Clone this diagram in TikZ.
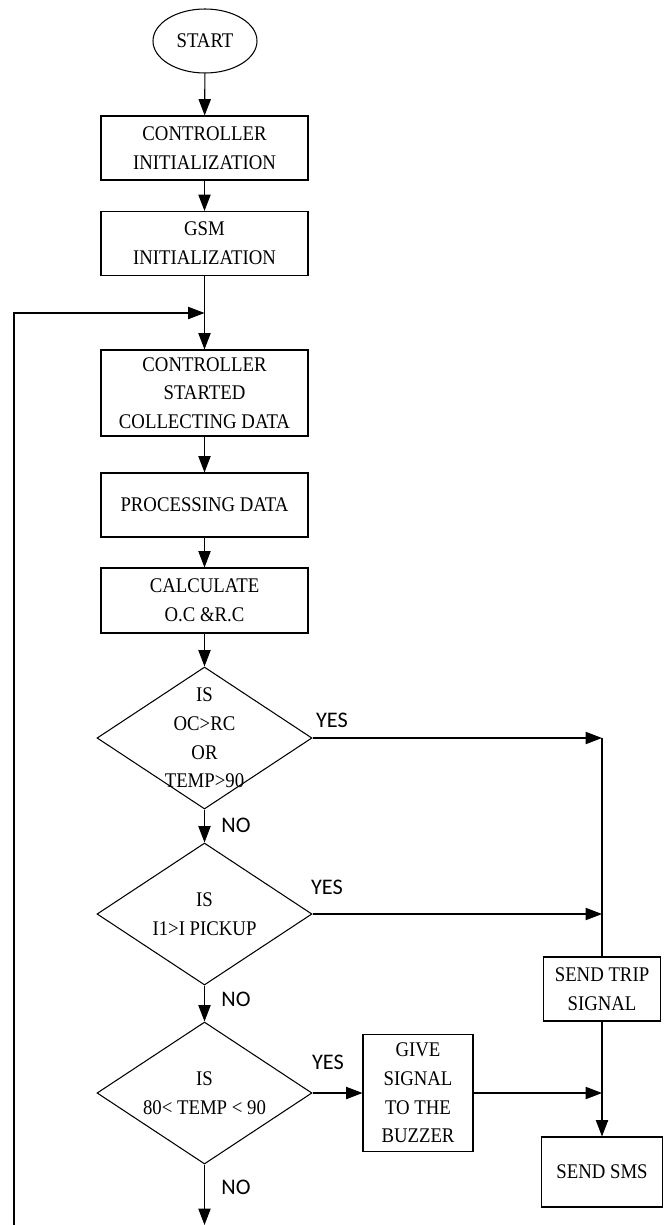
\documentclass[tikz,border=0pt]{standalone}
\usepackage{fontspec}
\setmainfont{Liberation Serif}[FakeStretch=0.9]
\newfontfamily\yesnofont{Carlito}
\usetikzlibrary{shapes.geometric,arrows.meta}

\begin{document}
\begin{tikzpicture}[x=0.03cm, y=-0.03cm, line width=0.9pt,
  txt/.style={font=\fontsize{17.8}{24.5}\selectfont, align=center},
  startnode/.style={draw, ellipse, txt, inner sep=0pt, minimum width=3.12cm, minimum height=1.92cm},
  box/.style={draw, rectangle, txt, inner sep=0pt, minimum width=6.21cm, minimum height=1.92cm},
  decision/.style={draw, diamond, inner sep=0pt, minimum width=6.45cm, minimum height=4.26cm},
  yesno/.style={font=\yesnofont\fontsize{19}{22}\selectfont, inner sep=0pt},
  arr/.style={-{Triangle[length=14pt, width=10.5pt]}}]
\useasboundingbox (0,0) rectangle (670,1225);
\node[startnode] (start) at (205,41) {START};
\node[box] (init) at (204.5,148) {CONTROLLER\\INITIALIZATION};
\node[box] (gsm) at (204.5,243.5) {GSM\\INITIALIZATION};
\node[box, minimum height=2.58cm] (collect) at (204.5,393) {CONTROLLER\\STARTED\\COLLECTING DATA};
\node[box] (process) at (204.5,505) {PROCESSING DATA};
\node[box, minimum height=1.95cm] (calc) at (204.5,600.5) {CALCULATE\\O.C \&R.C};
\node[decision, label={[txt]center:{IS\\OC>RC\\OR\\TEMP>90}}] (dec1) at (204.5,738) {};
\node[decision, label={[txt]center:{IS\\I1>I PICKUP}}] (dec2) at (204.5,914) {};
\node[decision, label={[txt]center:{IS\\80< TEMP < 90}}] (dec3) at (204.5,1093) {};
\node[box, minimum width=3.51cm] (trip) at (602,989) {SEND TRIP\\SIGNAL};
\node[box, minimum width=3.3cm, minimum height=3.51cm] (buzzer) at (418,1093) {GIVE\\SIGNAL\\TO THE\\BUZZER};
\node[box, minimum width=3.63cm, minimum height=2.1cm] (sms) at (602,1172) {SEND SMS};
\coordinate (join) at (204.5,313);
\coordinate (loopend) at (14,1225);
\coordinate (r1) at (602,738);
\coordinate (r2) at (602,914);
\coordinate (r3) at (602,1093);
\coordinate (stop) at (204.5,1225);
\node[yesno] (yes1) at (332,720) {YES};
\node[yesno] (no1) at (236,825) {NO};
\node[yesno] (yes2) at (327,887) {YES};
\node[yesno] (no2) at (236,999) {NO};
\node[yesno] (yes3) at (328,1062) {YES};
\node[yesno] (no3) at (236,1187) {NO};
\draw[arr] (start) -- (init);
\draw[arr] (init) -- (gsm);
\draw (gsm) -- (join);
\draw[arr] (join) -- (collect);
\draw[arr] (loopend) |- (join);
\draw[arr] (collect) -- (process);
\draw[arr] (process) -- (calc);
\draw[arr] (calc) -- (dec1);
\draw[arr] (dec1.south) -- (dec2.north);
\draw[arr] (dec2.south) -- (dec3.north);
\draw[arr] (dec3.south) -- (stop);
\draw[arr] (dec1.east) -- (r1);
\draw (r1) -- (trip.north);
\draw[arr] (dec2.east) -- (r2);
\draw[arr] (dec3.east) -- (buzzer.west);
\draw[arr] (buzzer.east) -- (r3);
\draw[arr] (trip) -- (sms);
\end{tikzpicture}
\end{document}
